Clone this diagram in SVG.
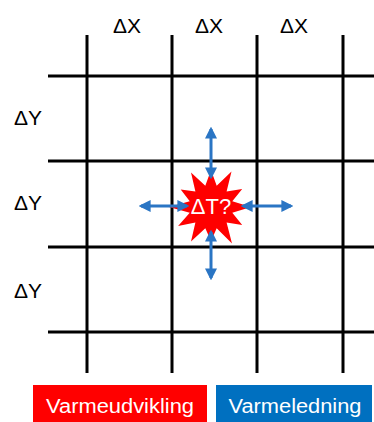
<svg xmlns="http://www.w3.org/2000/svg" width="374" height="422" viewBox="0 0 374 422">
<style>
.grid{stroke:#000;stroke-width:3;fill:none}
.lbl{font-family:"Liberation Sans",Arial,sans-serif;font-size:21px;fill:#000}
.arr{stroke:#2a75c4;stroke-width:3;fill:none;marker-start:url(#ah);marker-end:url(#ah)}
.leg{font-family:"Liberation Sans",Arial,sans-serif;font-size:20px;fill:#fff;text-anchor:middle}
</style>
<defs>
<marker id="ah" viewBox="0 0 10 10" refX="8" refY="5" markerWidth="4" markerHeight="4" orient="auto-start-reverse" markerUnits="strokeWidth">
<path d="M0,0 L10,5 L0,10 z" fill="#2a75c4"/>
</marker>
</defs>
<g id="grid">
<line class="grid" x1="87" y1="35" x2="87" y2="373"/>
<line class="grid" x1="172" y1="35" x2="172" y2="373"/>
<line class="grid" x1="257" y1="35" x2="257" y2="373"/>
<line class="grid" x1="343" y1="35" x2="343" y2="373"/>
<line class="grid" x1="48" y1="76" x2="374" y2="76"/>
<line class="grid" x1="48" y1="161" x2="374" y2="161"/>
<line class="grid" x1="48" y1="247" x2="374" y2="247"/>
<line class="grid" x1="48" y1="332" x2="374" y2="332"/>
</g>
<g id="labels">
<text class="lbl" x="113" y="33">ΔX</text>
<text class="lbl" x="195" y="33">ΔX</text>
<text class="lbl" x="280" y="33">ΔX</text>
<text class="lbl" x="14" y="125">ΔY</text>
<text class="lbl" x="14" y="210">ΔY</text>
<text class="lbl" x="14" y="298">ΔY</text>
</g>
<g id="source">
<polygon fill="#ff0000" points="251,207 232.3,212.7 242.2,225 226.6,222.6 232,243.4 216.7,228.3 211,241 205.3,228.3 191,241.6 195.4,222.6 178.1,226 189.75,212.7 169,207 189.75,201.3 180.7,189.5 195.4,191.4 191,172.4 205.3,185.75 211,170 216.7,185.75 231.5,171.5 226.6,191.4 242.2,189 232.3,201.3"/>
<text x="211" y="214" font-family="'Liberation Sans',Arial,sans-serif" font-size="22" fill="#fff" text-anchor="middle">ΔT?</text>
</g>
<g id="connectors">
<line class="arr" x1="211" y1="129" x2="211" y2="177"/>
<line class="arr" x1="211" y1="232" x2="211" y2="278"/>
<line class="arr" x1="141" y1="206" x2="187" y2="206"/>
<line class="arr" x1="243" y1="206" x2="291" y2="206"/>
</g>
<g id="legend-red">
<rect x="33" y="385" width="174" height="37" fill="#ff0000"/>
<text class="leg" x="120" y="413" textLength="148" lengthAdjust="spacingAndGlyphs">Varmeudvikling</text>
</g>
<g id="legend-blue">
<rect x="216" y="385" width="156" height="37" fill="#0070c0"/>
<text class="leg" x="295" y="413" textLength="133" lengthAdjust="spacingAndGlyphs">Varmeledning</text>
</g>
</svg>
